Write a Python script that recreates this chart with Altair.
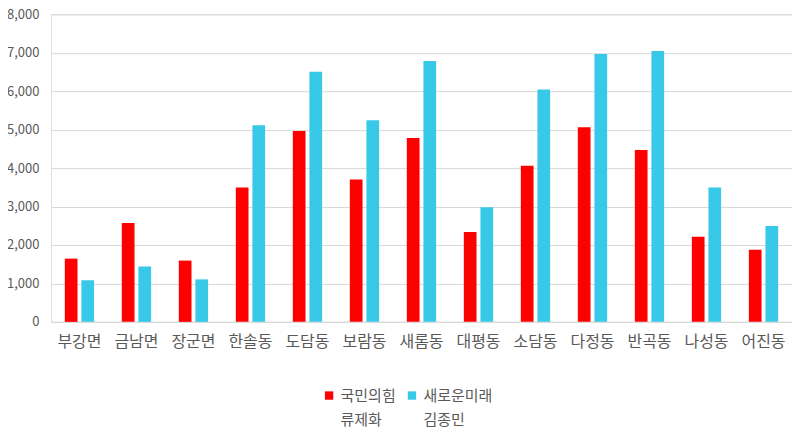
import altair as alt
import pandas as pd

regions = ["부강면", "금남면", "장군면", "한솔동", "도담동", "보람동", "새롬동",
           "대평동", "소담동", "다정동", "반곡동", "나성동", "어진동"]
ppp = [1645, 2570, 1594, 3496, 4961, 3702, 4781, 2340, 4062, 5064, 4473, 2211, 1877]
nfp = [1080, 1440, 1105, 5116, 6504, 5244, 6787, 2982, 6041, 6967, 7044, 3496, 2494]
series = ["국민의힘 류제화", "새로운미래 김종민"]
colors = ["#FF0000", "#38C8E8"]

rows = []
for i, r in enumerate(regions):
    rows.append({"region": r, "series": series[0], "value": ppp[i]})
    rows.append({"region": r, "series": series[1], "value": nfp[i]})
df = pd.DataFrame(rows)

font = "Noto Sans CJK KR"

chart = alt.Chart(df).mark_bar().encode(
    x=alt.X("region:N", sort=regions, title=None,
            scale=alt.Scale(paddingInner=0.486, paddingOuter=0.243),
            axis=alt.Axis(labelAngle=0, labelFontSize=16, labelColor="#595959",
                          labelFont=font, ticks=False, domainColor="#d9d9d9",
                          labelPadding=12, labelLineHeight=16)),
    xOffset=alt.XOffset("series:N", sort=series,
                        scale=alt.Scale(paddingInner=0.235, paddingOuter=0)),
    y=alt.Y("value:Q", title=None,
            scale=alt.Scale(domain=[0, 8000], nice=False),
            axis=alt.Axis(values=[0, 1000, 2000, 3000, 4000, 5000, 6000, 7000, 8000],
                          format=",d", labelFontSize=13, labelColor="#595959",
                          labelFont=font, ticks=False, domain=False,
                          gridColor="#d9d9d9", labelPadding=12, labelLineHeight=13)),
    color=alt.Color("series:N", sort=series,
                    scale=alt.Scale(domain=series, range=colors),
                    legend=alt.Legend(title=None, orient="none", direction="horizontal",
                                      legendX=271, legendY=374,
                                      labelExpr="split(datum.label, ' ')",
                                      labelFontSize=15, labelColor="#595959",
                                      labelFont=font, symbolType="square",
                                      symbolSize=70, symbolStrokeWidth=0,
                                      columnPadding=8)),
).properties(
    width=742, height=308,
    padding={"left": 43, "top": 6, "right": 0, "bottom": 115},
    autosize=alt.AutoSizeParams(type="none"),
).configure_view(stroke=None).configure(style={"guide-label": {"lineHeight": 25}})

chart.save("out.html", embed_options={"renderer": "svg", "actions": False})
